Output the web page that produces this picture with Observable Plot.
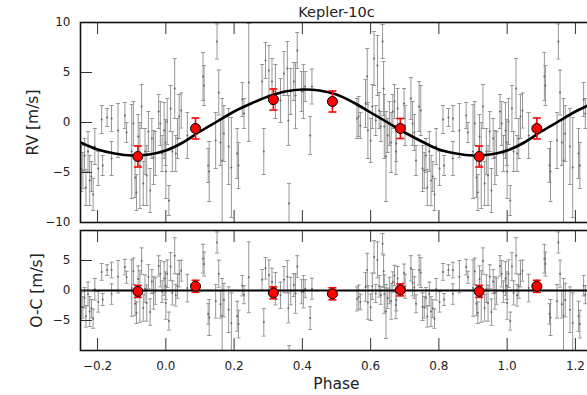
<!DOCTYPE html>
<html><head><meta charset="utf-8">
<script src="https://cdn.jsdelivr.net/npm/d3@7"></script>
<script src="https://cdn.jsdelivr.net/npm/@observablehq/plot@0.6"></script>
<style>
html,body{margin:0;padding:0;background:#fff;overflow:hidden;}
#chart{width:587px;height:395px;overflow:hidden;font-family:"DejaVu Sans",sans-serif;}
#chart svg{display:block;max-width:none !important;}
</style></head><body><div id="chart"></div>
<script>
// ---- Data (phase-folded, phase in [0,1)) ----
const phase = [0.004,0.009,0.014,0.019,0.026,0.029,0.034,0.039,0.045,0.063,
0.109,0.112,0.124,0.127,0.146,0.150,0.155,0.160,0.165,0.170,
0.184,0.192,0.209,0.213,0.224,0.229,0.243,0.282,0.287,0.292,
0.302,0.311,0.321,0.336,0.346,0.356,0.359,0.361,0.366,0.375,
0.380,0.385,0.398,0.403,0.408,0.423,0.428,0.560,0.565,0.570,
0.585,0.590,0.592,0.600,0.605,0.610,0.615,0.620,0.625,0.630,
0.635,0.638,0.640,0.645,0.650,0.655,0.660,0.665,0.670,0.674,
0.675,0.679,0.698,0.701,0.718,0.723,0.728,0.733,0.742,0.747,
0.752,0.757,0.762,0.766,0.772,0.777,0.782,0.787,0.792,0.802,
0.812,0.815,0.828,0.841,0.841,0.860,0.880,0.885,0.900,0.905,
0.910,0.914,0.919,0.924,0.929,0.934,0.939,0.944,0.949,0.954,
0.959,0.964,0.969,0.979,0.984,0.989,0.995,0.999,0.000];

const rv = [0.1,-7.8,1.4,-2.9,3.4,-3.1,-1.6,0.6,1.2,-1.3,
4.6,3.7,-4.3,-4.9,-1.8,8.1,3.0,-2.0,-3.8,-1.1,
-2.4,-4.5,-3.1,-4.3,2.3,0.9,4.0,4.1,-2.9,6.2,
5.2,4.1,3.1,2.2,4.9,5.4,0.2,-8.1,3.1,4.1,
2.7,7.2,3.1,3.1,3.6,-1.3,3.6,0.4,0.6,-0.3,
1.9,4.6,-0.8,-1.8,1.6,6.4,0.2,5.7,1.2,-0.4,
8.1,3.4,-0.4,-3.4,-1.3,-0.1,-2.0,1.1,2.1,-2.9,
-2.1,1.4,1.9,-0.3,2.4,-0.1,-1.0,-3.8,1.6,1.2,
-4.6,-4.8,-3.3,-6.5,-2.9,-5.8,-5.4,-7.2,-2.4,-4.6,
0.3,-4.3,0.5,0.4,-3.6,-0.8,0.7,-1.0,-2.9,-0.1,
-5.5,-7.0,-1.4,-4.3,1.6,-6.1,-2.9,-5.3,-0.9,-6.8,
-1.6,-3.5,-3.1,1.1,-0.1,-3.1,-0.8,-2.0,-4.9];

const err = [2.3,1.5,2.3,2.0,3.0,1.8,2.0,2.2,1.75,2.3,
2.4,2.0,1.7,3.0,2.8,1.75,2.25,2.3,6.2,2.8,
3.8,5.0,2.5,2.3,1.7,1.5,5.9,1.7,2.3,1.8,
2.5,2.3,2.7,2.2,2.2,2.7,2.5,2.0,2.3,1.9,
3.3,1.8,2.0,2.7,1.5,1.9,1.75,2.0,2.0,1.3,
2.4,2.8,2.8,2.2,2.2,2.7,1.5,3.0,1.8,1.5,
1.7,2.7,3.2,4.5,1.7,2.2,3.0,1.7,1.7,2.3,
1.8,2.0,1.5,2.0,2.1,2.2,1.8,1.5,2.5,2.5,
2.3,1.8,1.7,1.8,2.0,2.5,1.5,1.6,1.8,1.7,
1.4,1.0,0.9,1.3,1.7,2.7,1.3,1.0,4.7,2.2,
2.0,1.8,2.2,4.3,2.2,2.2,2.3,3.0,2.0,2.2,
2.0,2.7,2.2,1.7,2.2,1.8,2.8,2.3,2.7];

const oc = [2.8,-5.1,4.0,-0.4,5.8,-0.8,0.7,2.8,3.3,0.4,
5.3,4.4,-3.9,-4.5,-1.8,8.0,2.8,-2.3,-4.2,-1.6,
-3.2,-5.4,-4.3,-5.6,0.8,-0.7,2.2,1.8,-5.3,3.7,
2.6,1.4,0.3,-0.8,1.8,2.3,-2.9,-11.2,-0.1,0.9,
-0.5,4.0,-0.2,-0.2,0.3,-4.6,0.3,-1.4,-1.1,-1.9,
0.6,3.4,-2.0,-2.8,0.7,5.6,-0.5,5.1,0.7,-0.8,
7.8,3.2,-0.6,-3.5,-1.3,0.0,-1.8,1.4,2.5,-2.4,
-1.6,2.0,2.9,0.7,3.7,1.3,0.5,-2.2,3.4,3.0,
-2.7,-2.8,-1.2,-4.3,-0.6,-3.5,-3.0,-4.7,0.2,-1.9,
3.1,-1.5,3.4,3.4,-0.6,2.3,3.9,2.2,0.4,3.2,
-2.2,-3.7,1.9,-1.0,4.9,-2.9,0.3,-2.1,2.3,-3.6,
1.5,-0.4,-0.1,4.1,2.8,-0.2,2.0,0.8,-2.1];

// binned points (red)
const binPhase = [0.087, 0.315, 0.488, 0.687, 0.918];
const binRV    = [-0.6, 2.3, 2.1, -0.6, -3.4];
const binErr   = [1.05, 1.05, 1.05, 1.0, 1.05];
const binOC    = [0.7, -0.4, -0.55, 0.1, -0.15];
const binOCErr = [1.0, 1.0, 1.0, 1.0, 1.0];

// Keplerian model curve
const modelPhase = [-0.25,-0.20,-0.15,-0.10,-0.05,0.00,0.05,0.10,0.15,0.20,0.25,0.30,0.35,0.40,0.45,0.50,0.55,0.60,0.65,0.70,0.75,0.80,0.85,0.90,0.95,1.00,1.05,1.10,1.15,1.20,1.25];
const modelRV    = [-2.0,-2.7,-3.1,-3.3,-3.2,-2.8,-2.0,-0.9,0.1,1.1,1.9,2.6,3.1,3.3,3.2,2.8,2.0,1.0,0.0,-1.0,-1.9,-2.7,-3.1,-3.3,-3.2,-2.8,-2.0,-0.9,0.1,1.1,1.9];

const xTicks = [-0.2,0.0,0.2,0.4,0.6,0.8,1.0,1.2];
const yTicksTop = [-10,-5,0,5,10];
const yTicksBot = [-5,0,5];

// ---- layout ----
const X_DOMAIN = [-0.25, 1.25];
const W = 600, ML = 80, MR = 8;
const innerW = W - ML - MR;
const TICK = 12;

function unfold(p) { return [p - 1, p, p + 1].filter(q => q >= X_DOMAIN[0] && q <= X_DOMAIN[1]); }
const gray = [];
phase.forEach((p, i) => unfold(p).forEach(q => gray.push({phase: q, rv: rv[i], err: err[i], oc: oc[i]})));
const bins = [];
binPhase.forEach((p, i) => unfold(p).forEach(q => bins.push({phase: q, rv: binRV[i], err: binErr[i], oc: binOC[i], ocErr: binOCErr[i]})));
const model = modelPhase.map((p, i) => ({phase: p, rv: modelRV[i]}));

const capSymbol = {draw(ctx, size) { const r = Math.sqrt(size / Math.PI); ctx.moveTo(-r, 0); ctx.lineTo(r, 0); }};
const GRAY = "#969696", TXT = "#222";

function errMarks(data, key, ekey, color, capR, sw) {
  return [
    Plot.ruleX(data, {x: "phase", y1: d => d[key] - d[ekey], y2: d => d[key] + d[ekey], stroke: color, strokeWidth: sw, clip: true}),
    Plot.dot(data, {x: "phase", y: d => d[key] - d[ekey], symbol: capSymbol, r: capR, stroke: color, strokeWidth: sw, clip: true}),
    Plot.dot(data, {x: "phase", y: d => d[key] + d[ekey], symbol: capSymbol, r: capR, stroke: color, strokeWidth: sw, clip: true})
  ];
}

function frameTicks(innerH, yTicks) {
  return [
    Plot.ruleY(yTicks, {y: d => d, insetRight: innerW - TICK, stroke: "#333", strokeWidth: 1}),
    Plot.ruleX(xTicks, {x: d => d, insetBottom: innerH - TICK, stroke: "#333", strokeWidth: 1}),
    Plot.ruleX(xTicks, {x: d => d, insetTop: innerH - TICK, stroke: "#333", strokeWidth: 1}),
    Plot.frame({stroke: "#111", strokeWidth: 1.6})
  ];
}

// ---- top panel ----
const topMT = 22, topInner = 200, topH = 229;
const topPlot = Plot.plot({
  width: W, height: topH, marginLeft: ML, marginRight: MR, marginTop: topMT, marginBottom: topH - topMT - topInner,
  style: {fontFamily: "DejaVu Sans, sans-serif", background: "transparent", overflow: "visible"},
  x: {domain: X_DOMAIN, axis: null},
  y: {domain: [-10, 10]},
  marks: [
    ...errMarks(gray, "rv", "err", GRAY, 2, 1),
    Plot.dot(gray, {x: "phase", y: "rv", r: 1, fill: "#666", clip: true}),
    Plot.line(model, {x: "phase", y: "rv", curve: "catmull-rom", stroke: "black", strokeWidth: 2.6, clip: true}),
    ...errMarks(bins, "rv", "err", "#ff0000", 4, 1.6),
    Plot.dot(bins, {x: "phase", y: "rv", r: 5, fill: "#ff0000", stroke: "black", strokeWidth: 1}),
    ...frameTicks(topInner, yTicksTop),
    Plot.axisY({ticks: yTicksTop, tickSize: 0, tickPadding: 10, fontSize: 12, color: TXT, label: null}),
    Plot.text(["Kepler-10c"], {frameAnchor: "top", dy: -10, lineAnchor: "middle", textAnchor: "middle", fontSize: 14.5, fill: TXT}),
    Plot.text(["RV [m/s]"], {frameAnchor: "left", dx: -47, rotate: -90, textAnchor: "middle", lineAnchor: "middle", fontSize: 15.5, fill: TXT})
  ]
});

// ---- bottom panel ----
const botMT = 1, botInner = 120, botH = 166;
const botPlot = Plot.plot({
  width: W, height: botH, marginLeft: ML, marginRight: MR, marginTop: botMT, marginBottom: botH - botMT - botInner,
  style: {fontFamily: "DejaVu Sans, sans-serif", background: "transparent", overflow: "visible"},
  x: {domain: X_DOMAIN},
  y: {domain: [-10, 10]},
  marks: [
    ...errMarks(gray, "oc", "err", GRAY, 2, 1),
    Plot.dot(gray, {x: "phase", y: "oc", r: 1, fill: "#666", clip: true}),
    Plot.ruleY([0], {stroke: "black", strokeWidth: 2.2}),
    ...errMarks(bins, "oc", "ocErr", "#ff0000", 4, 1.6),
    Plot.dot(bins, {x: "phase", y: "oc", r: 5, fill: "#ff0000", stroke: "black", strokeWidth: 1}),
    ...frameTicks(botInner, yTicksBot),
    Plot.axisY({ticks: yTicksBot, tickSize: 0, tickPadding: 10, fontSize: 12, color: TXT, label: null}),
    Plot.axisX({ticks: xTicks, tickSize: 0, tickPadding: 11, tickFormat: d3.format(".1f"), fontSize: 12, color: TXT, label: null}),
    Plot.text(["O-C [m/s]"], {frameAnchor: "left", dx: -43, rotate: -90, textAnchor: "middle", lineAnchor: "middle", fontSize: 15.5, fill: TXT}),
    Plot.text(["Phase"], {frameAnchor: "bottom", dy: 34, textAnchor: "middle", lineAnchor: "middle", fontSize: 15.5, fill: TXT})
  ]
});

const chart = document.getElementById("chart");
chart.appendChild(topPlot);
chart.appendChild(botPlot);
</script>
</body></html>
